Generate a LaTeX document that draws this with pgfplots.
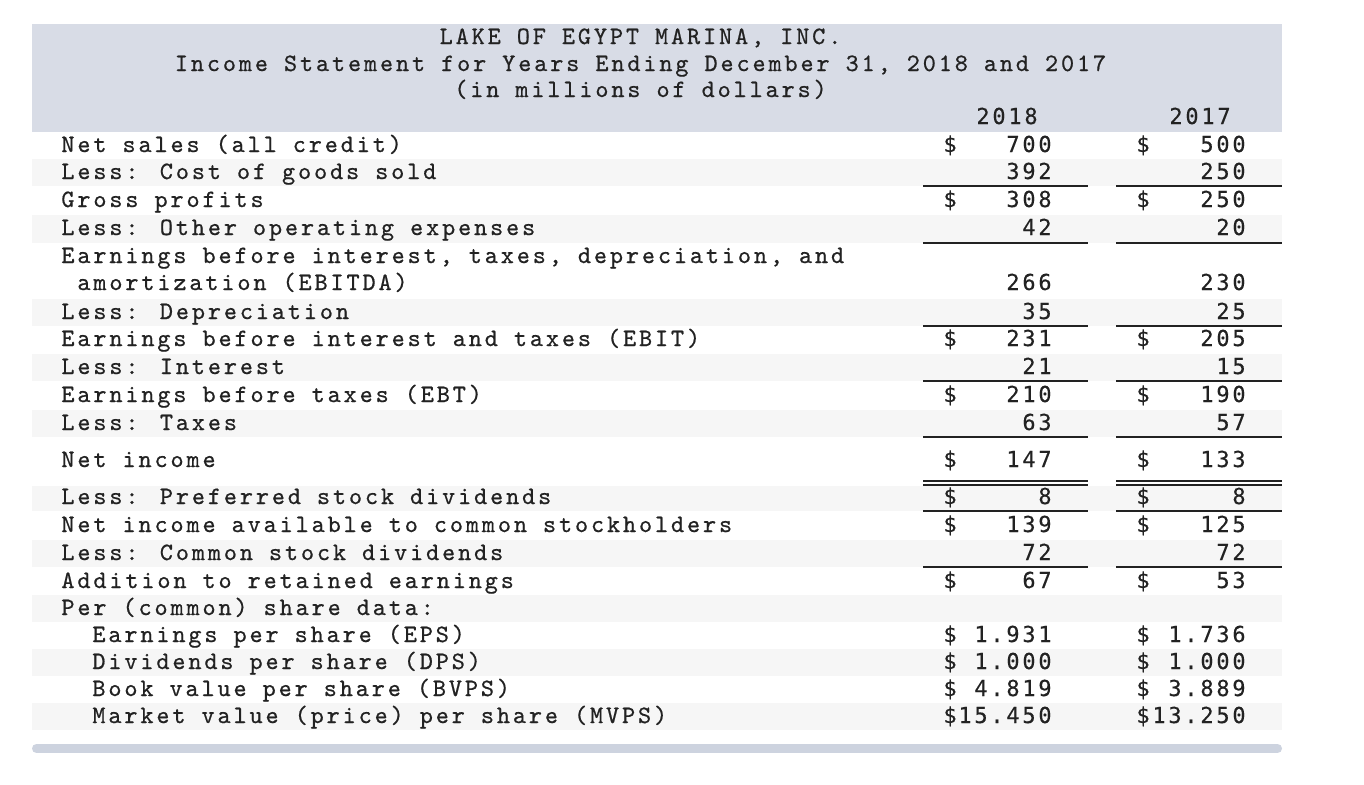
\documentclass[border=0pt]{standalone}
\usepackage{fontspec}
\usepackage{pgfplots}
\pgfplotsset{compat=1.18}
\newfontfamily\txtfont{lmmono10-regular.otf}[LetterSpace=11.5, FakeBold=0.6]
\newfontfamily\numfont{DejaVu Sans Mono}[LetterSpace=12.5, FakeBold=0.3]
\protected\def\dol{\textdollar}
\definecolor{hdr}{HTML}{D8DCE6}
\definecolor{stripe}{HTML}{F6F6F6}
\definecolor{sbar}{HTML}{CDD3DF}
\definecolor{txt}{HTML}{222222}
\pgfplotsset{
  txtlabel/.style={only marks, mark=none, point meta=explicit symbolic,
    nodes near coords={\pgfplotspointmeta},
    nodes near coords style={font={\txtfont\fontsize{12.5pt}{14pt}\selectfont}, text=txt, inner sep=0pt, anchor=base west}},
  numlabel/.style={only marks, mark=none, point meta=explicit,
    nodes near coords style={font={\numfont\fontsize{11pt}{12pt}\selectfont}, text=txt, inner sep=0pt, anchor=base east}},
  dollar/.style={only marks, mark=none, point meta=explicit symbolic,
    nodes near coords={\pgfplotspointmeta},
    nodes near coords style={font={\numfont\fontsize{11pt}{12pt}\selectfont}, text=txt, inner sep=0pt, anchor=base west}},
  rule/.style={draw=txt, line width=1pt},
  band/.style={fill=#1, draw=none},
}
\begin{document}
\begin{tikzpicture}
\begin{axis}[scale only axis, width=682pt, height=392pt,
  xmin=0, xmax=1364, ymin=0, ymax=784, y dir=reverse,
  hide axis, clip=false,
  /pgf/number format/assume math mode=true]
% background, header and row stripes
\addplot[band=white] coordinates {(0,0) (1364,0) (1364,784) (0,784)};
\addplot[band=hdr] coordinates {(32,24) (1282,24) (1282,132) (32,132)};
\addplot[band=stripe] coordinates {(32,159) (1282,159) (1282,186) (32,186)};
\addplot[band=stripe] coordinates {(32,215) (1282,215) (1282,243) (32,243)};
\addplot[band=stripe] coordinates {(32,299) (1282,299) (1282,326) (32,326)};
\addplot[band=stripe] coordinates {(32,354) (1282,354) (1282,381) (32,381)};
\addplot[band=stripe] coordinates {(32,410) (1282,410) (1282,437) (32,437)};
\addplot[band=stripe] coordinates {(32,486) (1282,486) (1282,511) (32,511)};
\addplot[band=stripe] coordinates {(32,540) (1282,540) (1282,567) (32,567)};
\addplot[band=stripe] coordinates {(32,595) (1282,595) (1282,622) (32,622)};
\addplot[band=stripe] coordinates {(32,649) (1282,649) (1282,676) (32,676)};
\addplot[band=stripe] coordinates {(32,703) (1282,703) (1282,730) (32,730)};
% scroll bar
\addplot[draw=sbar, line width=4.5pt, line cap=round] coordinates {(36.5,748.5) (1277.5,748.5)};
% rules under the columns
\addplot[rule] coordinates {(923,186) (1088,186)};
\addplot[rule] coordinates {(1116,186) (1282,186)};
\addplot[rule] coordinates {(923,243) (1088,243)};
\addplot[rule] coordinates {(1116,243) (1282,243)};
\addplot[rule] coordinates {(923,326) (1088,326)};
\addplot[rule] coordinates {(1116,326) (1282,326)};
\addplot[rule] coordinates {(923,381) (1088,381)};
\addplot[rule] coordinates {(1116,381) (1282,381)};
\addplot[rule] coordinates {(923,437) (1088,437)};
\addplot[rule] coordinates {(1116,437) (1282,437)};
\addplot[rule, line width=0.75pt] coordinates {(923,481) (1088,481)};
\addplot[rule, line width=0.75pt] coordinates {(1116,481) (1282,481)};
\addplot[rule, line width=0.75pt] coordinates {(923,485) (1088,485)};
\addplot[rule, line width=0.75pt] coordinates {(1116,485) (1282,485)};
\addplot[rule] coordinates {(923,511) (1088,511)};
\addplot[rule] coordinates {(1116,511) (1282,511)};
\addplot[rule] coordinates {(923,567) (1088,567)};
\addplot[rule] coordinates {(1116,567) (1282,567)};
% title
\addplot[txtlabel, nodes near coords style={anchor=base}] coordinates {
  (640.5,44) [LAKE OF EGYPT MARINA, INC.]
  (640.5,71) [Income Statement for Years Ending December 31, 2018 and 2017]
  (640.5,97) [(in millions of dollars)]
};
\addplot[dollar, nodes near coords style={anchor=base}] coordinates {(1007,124) [2018] (1200,124) [2017]};
% row labels
\addplot[txtlabel] coordinates {
  (61,152) [Net sales (all credit)]
  (61,179) [Less: Cost of goods sold]
  (61,207) [Gross profits]
  (61,235) [Less: Other operating expenses]
  (61,263) [Earnings before interest, taxes, depreciation, and]
  (77,290) [amortization (EBITDA)]
  (61,319) [Less: Depreciation]
  (61,346) [Earnings before interest and taxes (EBIT)]
  (61,374) [Less: Interest]
  (61,402) [Earnings before taxes (EBT)]
  (61,430) [Less: Taxes]
  (61,467) [Net income]
  (61,504) [Less: Preferred stock dividends]
  (61,532) [Net income available to common stockholders]
  (61,560) [Less: Common stock dividends]
  (61,588) [Addition to retained earnings]
  (61,615) [Per (common) share data:]
  (92,642) [Earnings per share (EPS)]
  (92,669) [Dividends per share (DPS)]
  (92,696) [Book value per share (BVPS)]
  (92,723) [Market value (price) per share (MVPS)]
};
% dollar signs
\addplot[dollar] coordinates {
  (943,152) [\dol] (943,207) [\dol] (943,346) [\dol] (943,402) [\dol]
  (943,467) [\dol] (943,504) [\dol] (943,532) [\dol] (943,588) [\dol]
  (943,642) [\dol] (943,669) [\dol] (943,696) [\dol] (943,723) [\dol]
  (1136,152) [\dol] (1136,207) [\dol] (1136,346) [\dol] (1136,402) [\dol]
  (1136,467) [\dol] (1136,504) [\dol] (1136,532) [\dol] (1136,588) [\dol]
  (1136,642) [\dol] (1136,669) [\dol] (1136,696) [\dol] (1136,723) [\dol]
};
% 2018 values
\addplot[numlabel, nodes near coords] coordinates {
  (1052,152) [700] (1052,179) [392] (1052,207) [308] (1052,235) [42]
  (1052,290) [266] (1052,319) [35] (1052,346) [231] (1052,374) [21]
  (1052,402) [210] (1052,430) [63] (1052,467) [147] (1052,504) [8]
  (1052,532) [139] (1052,560) [72] (1052,588) [67]
};
\addplot[numlabel, nodes near coords={\pgfmathprintnumber[fixed,precision=3,fixed zerofill]{\pgfplotspointmeta}}] coordinates {
  (1052,642) [1.931] (1052,669) [1.000] (1052,696) [4.819] (1052,723) [15.450]
};
% 2017 values
\addplot[numlabel, nodes near coords] coordinates {
  (1246,152) [500] (1246,179) [250] (1246,207) [250] (1246,235) [20]
  (1246,290) [230] (1246,319) [25] (1246,346) [205] (1246,374) [15]
  (1246,402) [190] (1246,430) [57] (1246,467) [133] (1246,504) [8]
  (1246,532) [125] (1246,560) [72] (1246,588) [53]
};
\addplot[numlabel, nodes near coords={\pgfmathprintnumber[fixed,precision=3,fixed zerofill]{\pgfplotspointmeta}}] coordinates {
  (1246,642) [1.736] (1246,669) [1.000] (1246,696) [3.889] (1246,723) [13.250]
};
\end{axis}
\end{tikzpicture}
\end{document}
